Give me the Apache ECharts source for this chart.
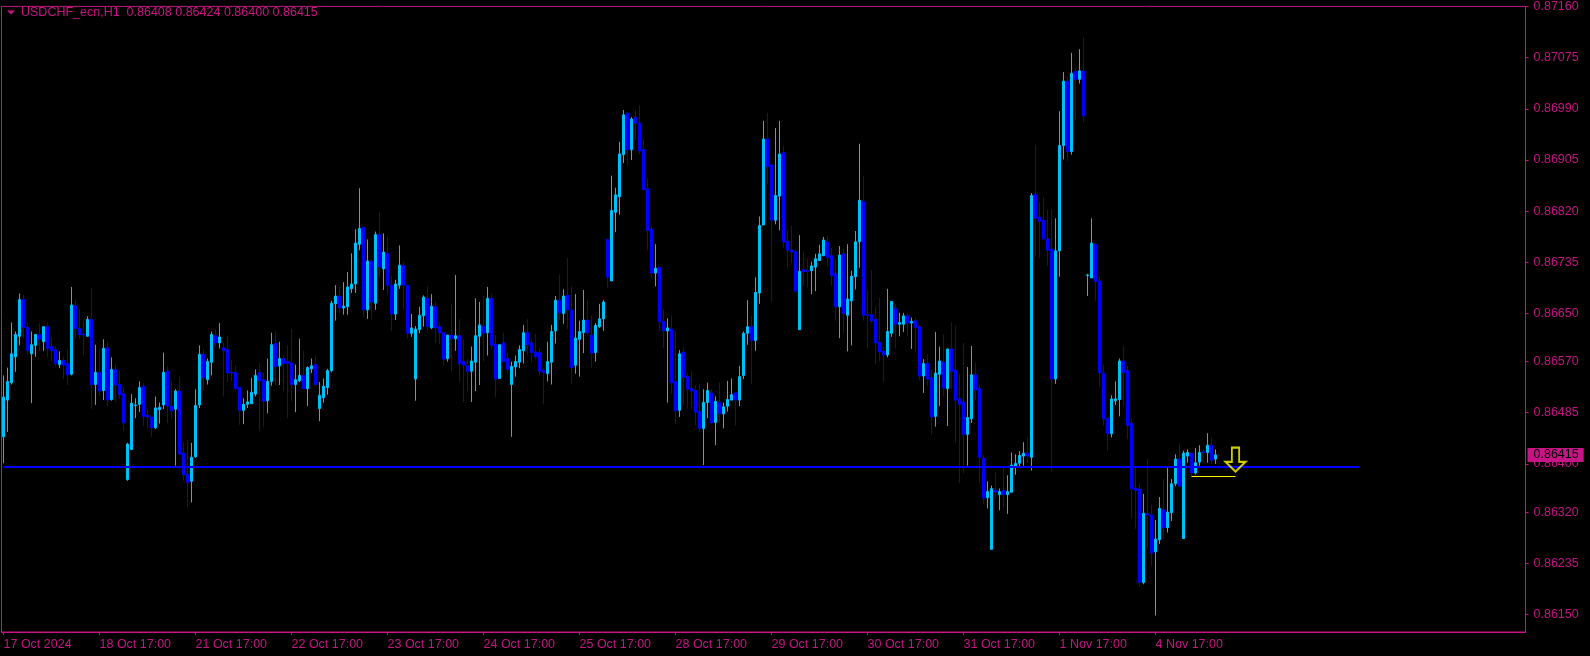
<!DOCTYPE html>
<html><head><meta charset="utf-8">
<script src="https://cdn.jsdelivr.net/npm/echarts@6/dist/echarts.min.js"></script>
<style>html,body{margin:0;padding:0;background:#000;}#c{width:1590px;height:656px;}</style>
</head><body><div id="c"></div>
<script>
const symbolName = 'USDCHF_ecn,H1';
const xTickLabels = ['17 Oct 2024','18 Oct 17:00','21 Oct 17:00','22 Oct 17:00','23 Oct 17:00','24 Oct 17:00','25 Oct 17:00','28 Oct 17:00','29 Oct 17:00','30 Oct 17:00','31 Oct 17:00','1 Nov 17:00','4 Nov 17:00'];
const barsPerLabel = 24;
const totalSlots = 381;
const yTickLabels = [0.87160,0.87075,0.86990,0.86905,0.86820,0.86735,0.86650,0.86570,0.86485,0.86400,0.86320,0.86235,0.86150];
const yMin = 0.861207, yMax = 0.871602;

const open = [
0.86445,0.86506,0.86535,0.86578,0.86612,0.86673,0.86627,0.86583,0.86597,0.86615,
0.86603,0.86628,0.86595,0.86590,0.86565,0.86572,0.86567,0.86549,0.86663,0.86625,
0.86615,0.86612,0.86640,0.86532,0.86552,0.86522,0.86593,0.86507,0.86557,0.86532,
0.86517,0.86374,0.86424,0.86497,0.86499,0.86529,0.86481,0.86478,0.86460,0.86490,
0.86498,0.86554,0.86496,0.86491,0.86521,0.86418,0.86383,0.86371,0.86412,0.86498,
0.86582,0.86540,0.86569,0.86613,0.86601,0.86593,0.86590,0.86552,0.86552,0.86527,
0.86489,0.86499,0.86500,0.86516,0.86552,0.86540,0.86505,0.86537,0.86600,0.86563,
0.86575,0.86570,0.86568,0.86532,0.86538,0.86547,0.86525,0.86558,0.86565,0.86492,
0.86510,0.86527,0.86555,0.86666,0.86679,0.86659,0.86661,0.86691,0.86699,0.86765,
0.86793,0.86656,0.86737,0.86667,0.86781,0.86724,0.86750,0.86697,0.86649,0.86697,
0.86730,0.86697,0.86617,0.86541,0.86623,0.86646,0.86675,0.86626,0.86661,0.86628,
0.86618,0.86575,0.86614,0.86608,0.86613,0.86570,0.86563,0.86554,0.86569,0.86612,
0.86629,0.86618,0.86675,0.86599,0.86542,0.86601,0.86575,0.86532,0.86561,0.86569,
0.86588,0.86618,0.86601,0.86586,0.86585,0.86555,0.86550,0.86569,0.86621,0.86672,
0.86650,0.86680,0.86656,0.86564,0.86607,0.86618,0.86639,0.86614,0.86585,0.86628,
0.86641,0.86773,0.86704,0.86818,0.86844,0.86914,0.86983,0.86922,0.86976,0.86966,
0.86922,0.86857,0.86790,0.86717,0.86727,0.86637,0.86621,0.86624,0.86537,0.86489,
0.86586,0.86545,0.86525,0.86522,0.86487,0.86459,0.86502,0.86518,0.86469,0.86502,
0.86483,0.86496,0.86506,0.86518,0.86506,0.86547,0.86617,0.86628,0.86605,0.86684,
0.86797,0.86940,0.86897,0.86805,0.86845,0.86917,0.86770,0.86755,0.86753,0.86623,
0.86723,0.86721,0.86721,0.86727,0.86738,0.86746,0.86769,0.86746,0.86716,0.86661,
0.86749,0.86647,0.86671,0.86711,0.86769,0.86836,0.86648,0.86648,0.86640,0.86602,
0.86587,0.86581,0.86617,0.86658,0.86632,0.86632,0.86646,0.86634,0.86638,0.86628,
0.86546,0.86567,0.86543,0.86479,0.86549,0.86569,0.86525,0.86591,0.86556,0.86508,
0.86503,0.86449,0.86475,0.86548,0.86525,0.86409,0.86344,0.86258,0.86356,0.86349,
0.86356,0.86349,0.86353,0.86396,0.86401,0.86413,0.86418,0.86411,0.86848,0.86810,
0.86805,0.86774,0.86757,0.86541,0.86754,0.86929,0.87036,0.86919,0.87052,0.87039,
0.87053,0.86713,0.86709,0.86765,0.86704,0.86551,0.86476,0.86450,0.86505,0.86507,
0.86571,0.86555,0.86467,0.86360,0.86358,0.86203,0.86317,0.86315,0.86254,0.86274,
0.86324,0.86294,0.86319,0.86367,0.86408,0.86276,0.86413,0.86418,0.86385,0.86403,
0.86420,0.86419,0.86431,0.86408];

const high = [
0.86547,0.86560,0.86635,0.86620,0.86683,0.86681,0.86634,0.86620,0.86615,0.86634,
0.86628,0.86635,0.86610,0.86595,0.86587,0.86578,0.86590,0.86694,0.86673,0.86658,
0.86636,0.86645,0.86693,0.86598,0.86590,0.86607,0.86603,0.86577,0.86565,0.86555,
0.86527,0.86435,0.86516,0.86509,0.86537,0.86534,0.86491,0.86478,0.86512,0.86502,
0.86585,0.86562,0.86537,0.86524,0.86545,0.86436,0.86440,0.86435,0.86524,0.86597,
0.86590,0.86575,0.86620,0.86624,0.86634,0.86602,0.86613,0.86572,0.86563,0.86527,
0.86509,0.86522,0.86543,0.86557,0.86568,0.86552,0.86575,0.86618,0.86621,0.86603,
0.86581,0.86597,0.86624,0.86565,0.86608,0.86588,0.86562,0.86575,0.86580,0.86536,
0.86542,0.86558,0.86671,0.86697,0.86694,0.86702,0.86719,0.86750,0.86790,0.86858,
0.86793,0.86773,0.86740,0.86786,0.86819,0.86783,0.86777,0.86712,0.86706,0.86763,
0.86735,0.86697,0.86649,0.86629,0.86661,0.86680,0.86695,0.86682,0.86670,0.86634,
0.86619,0.86614,0.86666,0.86714,0.86641,0.86607,0.86575,0.86595,0.86675,0.86669,
0.86679,0.86694,0.86682,0.86614,0.86598,0.86618,0.86585,0.86570,0.86580,0.86597,
0.86631,0.86641,0.86608,0.86616,0.86593,0.86560,0.86603,0.86631,0.86679,0.86715,
0.86690,0.86742,0.86695,0.86682,0.86638,0.86689,0.86672,0.86646,0.86634,0.86666,
0.86672,0.86773,0.86879,0.86859,0.86935,0.86988,0.86983,0.86976,0.86988,0.86996,
0.86940,0.86874,0.86794,0.86765,0.86727,0.86657,0.86642,0.86646,0.86621,0.86589,
0.86594,0.86551,0.86555,0.86531,0.86533,0.86524,0.86535,0.86524,0.86512,0.86535,
0.86502,0.86538,0.86542,0.86518,0.86563,0.86620,0.86672,0.86646,0.86710,0.86811,
0.86970,0.86983,0.86897,0.86958,0.86970,0.86928,0.86788,0.86796,0.86757,0.86780,
0.86753,0.86741,0.86736,0.86749,0.86764,0.86777,0.86779,0.86759,0.86741,0.86762,
0.86757,0.86765,0.86721,0.86787,0.86932,0.86879,0.86689,0.86722,0.86661,0.86676,
0.86594,0.86691,0.86670,0.86665,0.86651,0.86651,0.86650,0.86643,0.86643,0.86630,
0.86574,0.86582,0.86556,0.86619,0.86595,0.86615,0.86591,0.86635,0.86629,0.86549,
0.86601,0.86561,0.86596,0.86568,0.86531,0.86415,0.86371,0.86364,0.86386,0.86359,
0.86394,0.86381,0.86419,0.86416,0.86421,0.86436,0.86444,0.86850,0.86930,0.86835,
0.86843,0.86822,0.86823,0.86808,0.86986,0.87051,0.87043,0.87083,0.87057,0.87089,
0.87109,0.86716,0.86808,0.86767,0.86711,0.86565,0.86476,0.86514,0.86537,0.86575,
0.86596,0.86562,0.86476,0.86393,0.86368,0.86350,0.86408,0.86332,0.86307,0.86345,
0.86375,0.86393,0.86375,0.86416,0.86434,0.86422,0.86424,0.86418,0.86426,0.86431,
0.86424,0.86451,0.86444,0.86424];

const low = [
0.86401,0.86453,0.86532,0.86553,0.86597,0.86610,0.86581,0.86501,0.86578,0.86588,
0.86588,0.86577,0.86570,0.86562,0.86559,0.86541,0.86531,0.86547,0.86610,0.86608,
0.86580,0.86612,0.86491,0.86498,0.86513,0.86506,0.86496,0.86505,0.86503,0.86508,
0.86455,0.86372,0.86424,0.86476,0.86486,0.86463,0.86460,0.86445,0.86458,0.86467,
0.86491,0.86468,0.86475,0.86397,0.86415,0.86372,0.86328,0.86336,0.86410,0.86493,
0.86522,0.86532,0.86547,0.86594,0.86592,0.86512,0.86536,0.86538,0.86522,0.86465,
0.86466,0.86493,0.86500,0.86512,0.86454,0.86462,0.86484,0.86530,0.86531,0.86531,
0.86521,0.86476,0.86504,0.86486,0.86536,0.86524,0.86496,0.86551,0.86529,0.86471,
0.86502,0.86515,0.86552,0.86638,0.86651,0.86648,0.86648,0.86684,0.86684,0.86755,
0.86644,0.86641,0.86640,0.86656,0.86710,0.86689,0.86682,0.86621,0.86639,0.86691,
0.86656,0.86608,0.86611,0.86505,0.86617,0.86628,0.86620,0.86624,0.86601,0.86599,
0.86564,0.86570,0.86554,0.86588,0.86536,0.86503,0.86521,0.86503,0.86521,0.86531,
0.86570,0.86580,0.86591,0.86511,0.86542,0.86570,0.86550,0.86445,0.86545,0.86559,
0.86567,0.86581,0.86569,0.86574,0.86547,0.86499,0.86537,0.86532,0.86600,0.86639,
0.86633,0.86624,0.86532,0.86550,0.86545,0.86584,0.86615,0.86560,0.86570,0.86626,
0.86621,0.86693,0.86704,0.86785,0.86814,0.86900,0.86895,0.86905,0.86938,0.86915,
0.86856,0.86755,0.86707,0.86695,0.86621,0.86593,0.86502,0.86517,0.86466,0.86478,
0.86497,0.86492,0.86492,0.86464,0.86453,0.86398,0.86476,0.86468,0.86431,0.86468,
0.86459,0.86487,0.86506,0.86464,0.86496,0.86541,0.86598,0.86532,0.86588,0.86666,
0.86797,0.86865,0.86669,0.86798,0.86788,0.86759,0.86727,0.86734,0.86687,0.86623,
0.86696,0.86693,0.86682,0.86687,0.86738,0.86746,0.86728,0.86696,0.86638,0.86609,
0.86617,0.86587,0.86597,0.86690,0.86726,0.86638,0.86592,0.86634,0.86566,0.86571,
0.86536,0.86577,0.86611,0.86592,0.86612,0.86619,0.86612,0.86591,0.86587,0.86539,
0.86518,0.86530,0.86449,0.86462,0.86496,0.86512,0.86463,0.86525,0.86435,0.86368,
0.86384,0.86397,0.86468,0.86506,0.86368,0.86333,0.86326,0.86258,0.86343,0.86323,
0.86326,0.86317,0.86352,0.86382,0.86396,0.86397,0.86402,0.86389,0.86745,0.86742,
0.86772,0.86729,0.86386,0.86533,0.86711,0.86906,0.86903,0.86914,0.86971,0.87032,
0.86968,0.86679,0.86709,0.86671,0.86528,0.86464,0.86422,0.86444,0.86498,0.86479,
0.86496,0.86441,0.86309,0.86292,0.86196,0.86200,0.86261,0.86231,0.86148,0.86267,
0.86276,0.86286,0.86305,0.86363,0.86363,0.86276,0.86402,0.86379,0.86382,0.86397,
0.86403,0.86402,0.86400,0.86400];

const close = [
0.86511,0.86537,0.86583,0.86615,0.86673,0.86627,0.86588,0.86598,0.86615,0.86607,
0.86628,0.86592,0.86588,0.86567,0.86572,0.86564,0.86548,0.86664,0.86625,0.86615,
0.86614,0.86640,0.86532,0.86552,0.86521,0.86592,0.86506,0.86557,0.86531,0.86515,
0.86468,0.86433,0.86501,0.86498,0.86527,0.86479,0.86478,0.86460,0.86493,0.86494,
0.86552,0.86496,0.86488,0.86521,0.86416,0.86382,0.86369,0.86411,0.86497,0.86582,
0.86543,0.86570,0.86615,0.86601,0.86611,0.86588,0.86551,0.86551,0.86525,0.86489,
0.86499,0.86503,0.86519,0.86547,0.86538,0.86504,0.86537,0.86598,0.86562,0.86575,
0.86567,0.86567,0.86532,0.86540,0.86547,0.86525,0.86560,0.86563,0.86532,0.86514,
0.86529,0.86555,0.86667,0.86679,0.86659,0.86662,0.86694,0.86699,0.86767,0.86791,
0.86656,0.86737,0.86669,0.86781,0.86727,0.86752,0.86697,0.86649,0.86699,0.86730,
0.86697,0.86617,0.86626,0.86624,0.86647,0.86677,0.86628,0.86662,0.86626,0.86618,
0.86574,0.86614,0.86608,0.86613,0.86567,0.86564,0.86554,0.86571,0.86613,0.86631,
0.86617,0.86675,0.86597,0.86541,0.86598,0.86570,0.86557,0.86562,0.86570,0.86590,
0.86618,0.86598,0.86585,0.86578,0.86554,0.86552,0.86570,0.86620,0.86672,0.86651,
0.86679,0.86656,0.86560,0.86609,0.86620,0.86639,0.86618,0.86584,0.86630,0.86641,
0.86669,0.86710,0.86821,0.86847,0.86915,0.86980,0.86922,0.86973,0.86966,0.86920,
0.86856,0.86788,0.86717,0.86725,0.86636,0.86621,0.86626,0.86535,0.86488,0.86583,
0.86544,0.86524,0.86521,0.86486,0.86459,0.86502,0.86522,0.86468,0.86504,0.86484,
0.86495,0.86507,0.86515,0.86506,0.86545,0.86617,0.86628,0.86605,0.86685,0.86796,
0.86940,0.86894,0.86805,0.86846,0.86915,0.86769,0.86755,0.86752,0.86687,0.86720,
0.86719,0.86720,0.86729,0.86741,0.86749,0.86772,0.86743,0.86713,0.86661,0.86747,
0.86650,0.86674,0.86712,0.86769,0.86838,0.86647,0.86647,0.86638,0.86601,0.86586,
0.86581,0.86620,0.86670,0.86632,0.86635,0.86646,0.86634,0.86637,0.86627,0.86546,
0.86567,0.86541,0.86478,0.86551,0.86571,0.86526,0.86591,0.86554,0.86506,0.86499,
0.86449,0.86477,0.86548,0.86523,0.86411,0.86343,0.86354,0.86359,0.86353,0.86354,
0.86349,0.86354,0.86398,0.86401,0.86414,0.86418,0.86413,0.86846,0.86808,0.86803,
0.86774,0.86755,0.86541,0.86754,0.86929,0.87036,0.86919,0.87049,0.87039,0.87053,
0.86978,0.86714,0.86767,0.86703,0.86551,0.86475,0.86450,0.86508,0.86508,0.86571,
0.86552,0.86464,0.86359,0.86356,0.86203,0.86318,0.86315,0.86252,0.86275,0.86326,
0.86294,0.86320,0.86367,0.86408,0.86363,0.86418,0.86419,0.86385,0.86402,0.86419,
0.86419,0.86431,0.86406,0.86415];

// chart objects
const hLinePrice = 0.86395;
const hLineFrom = 0, hLineTo = 339;
const arrowIndex = 308, arrowPrice = 0.86407;
const signalLineFrom = 297, signalLineTo = 308, signalLinePrice = 0.86379;

const MAG = '#C71585';
const BULL = '#00BFFF';
const BEAR = '#0000FF';
const FONT = '"Liberation Sans", Arial, sans-serif';
const FS = 12.5;

const last = close.length - 1;
const categories = Array.from({length: totalSlots}, (_, i) =>
  (i % barsPerLabel === 0 && i / barsPerLabel < xTickLabels.length) ? xTickLabels[i / barsPerLabel] : String(i));
const showTick = (i) => i % barsPerLabel === 0 && i / barsPerLabel < xTickLabels.length;
const candleData = open.map((o, i) => [o, close[i], low[i], high[i]]);

const chart = echarts.init(document.getElementById('c'), null, {renderer: 'canvas'});
chart.setOption({
  animation: false,
  backgroundColor: '#000000',
  grid: {left: 1.5, top: 3, width: 1524, height: 629, show: true, borderColor: MAG, borderWidth: 1, backgroundColor: '#000000'},
  xAxis: {
    type: 'category', data: categories, boundaryGap: true,
    axisLine: {show: true, lineStyle: {color: MAG, width: 1}},
    axisTick: {show: true, interval: showTick, alignWithLabel: true, length: 3, lineStyle: {color: MAG}},
    axisLabel: {interval: showTick, align: 'left', color: MAG, fontSize: FS, fontFamily: FONT, margin: 6, hideOverlap: false},
    splitLine: {show: false}
  },
  yAxis: [
    {
      type: 'value', position: 'right', min: yMin, max: yMax, scale: true, z: 2,
      axisLine: {show: true, lineStyle: {color: MAG, width: 1}},
      axisTick: {show: true, length: 3, customValues: yTickLabels, lineStyle: {color: MAG}},
      axisLabel: {customValues: yTickLabels, formatter: v => v.toFixed(5), color: MAG, fontSize: FS, fontFamily: FONT, margin: 8},
      splitLine: {show: false}
    },
    {
      type: 'value', position: 'right', min: yMin, max: yMax, scale: true, z: 3,
      axisLine: {show: false}, axisTick: {show: false}, splitLine: {show: false},
      axisLabel: {customValues: [close[last]], formatter: v => v.toFixed(5), color: '#000000', fontSize: FS, fontFamily: FONT, margin: 2,
                  backgroundColor: MAG, padding: [1, 5, 0, 6]}
    }
  ],
  graphic: [
    {type: 'polygon', shape: {points: [[7, 10.5], [15, 10.5], [11, 14.5]]}, style: {fill: MAG}},
    {type: 'text', left: 21, top: 6, style: {text: symbolName + '  ' + [open[last], high[last], low[last], close[last]].map(v => v.toFixed(5)).join(' '), fill: MAG, font: FS + 'px ' + FONT}}
  ],
  series: [
    {
      type: 'candlestick', data: candleData, barWidth: 2, z: 2,
      itemStyle: {color: BULL, color0: BEAR, borderColor: BULL, borderColor0: BEAR, borderColorDoji: BULL, borderWidth: 1}
    },
    {
      type: 'line', data: [[hLineFrom, hLinePrice], [hLineTo, hLinePrice]], symbol: 'none', z: 5,
      lineStyle: {color: BEAR, width: 2}, silent: true
    },
    {
      type: 'line', data: [[signalLineFrom, signalLinePrice], [signalLineTo, signalLinePrice]], symbol: 'none', z: 5,
      lineStyle: {color: '#FFFF00', width: 1}, silent: true
    },
    {
      type: 'scatter', data: [[arrowIndex, arrowPrice]], z: 6, silent: true,
      symbol: 'path://M7,0 L15,0 L15,16 L22,16 L11,27 L0,16 L7,16 Z', symbolSize: [20, 24], symbolKeepAspect: false,
      itemStyle: {color: 'rgba(0,0,0,0)', borderColor: '#FFFF00', borderWidth: 2}
    }
  ]
});
</script>
</body></html>
